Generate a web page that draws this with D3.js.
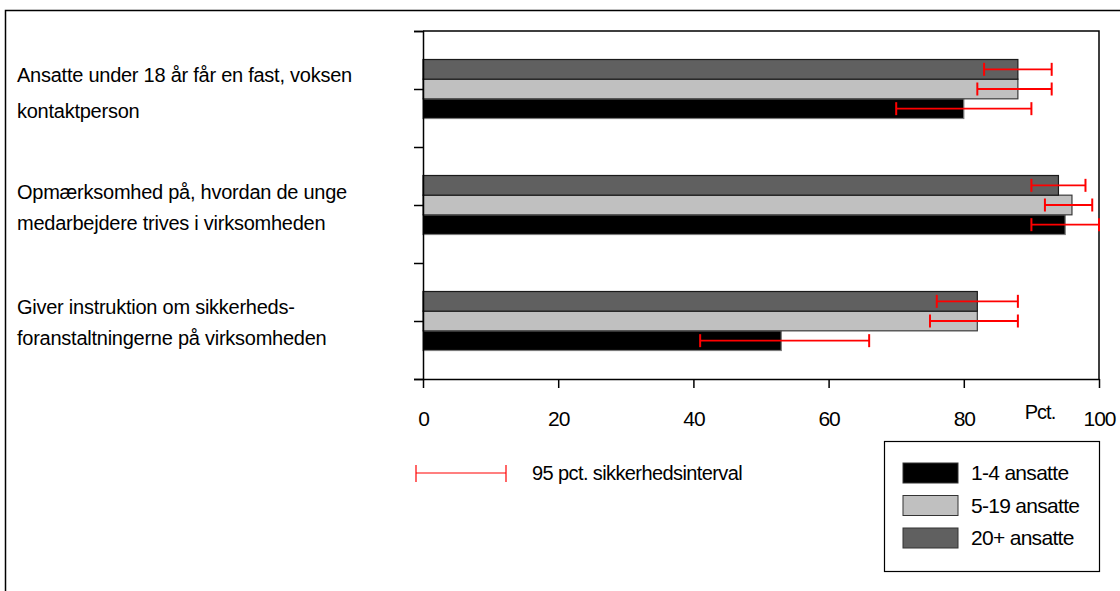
<!DOCTYPE html>
<html>
<head>
<meta charset="utf-8">
<script src="https://cdn.jsdelivr.net/npm/d3@7"></script>
<style>
  html, body { margin: 0; padding: 0; background: #fff; }
  svg { display: block; font-family: "Liberation Sans", Arial, sans-serif; }
</style>
</head>
<body>
<svg id="chart" width="1120" height="591"></svg>
<script>
// ---- data ----
const categories = [
  "Ansatte under 18 år får en fast, voksen|kontaktperson",
  "Opmærksomhed på, hvordan de unge|medarbejdere trives i virksomheden",
  "Giver instruktion om sikkerheds-|foranstaltningerne på virksomheden"
];
const seriesNames = ["1-4 ansatte", "5-19 ansatte", "20+ ansatte"];
const values_1_4  = [80, 95, 53];
const values_5_19 = [88, 96, 82];
const values_20   = [88, 94, 82];
const ciLow_1_4   = [70, 90, 41];
const ciHigh_1_4  = [90, 100, 66];
const ciLow_5_19  = [82, 92, 75];
const ciHigh_5_19 = [93, 99, 88];
const ciLow_20    = [83, 90, 76];
const ciHigh_20   = [93, 98, 88];
const xTicks = [0, 20, 40, 60, 80, 100];
const unitLabel = "Pct.";
const ciLegendLabel = "95 pct. sikkerhedsinterval";

// ---- layout ----
const svg = d3.select("#chart");
const colors = {"1-4 ansatte": "#000000", "5-19 ansatte": "#c0c0c0", "20+ ansatte": "#606060"};
const strokes = {"1-4 ansatte": "#7a7a7a", "5-19 ansatte": "#3a3a3a", "20+ ansatte": "#1a1a1a"};
const pLeft = 423, pRight = 1099, pTop = 31, pBottom = 379;

svg.append("rect").attr("width", 1120).attr("height", 591).attr("fill", "#fff");
// outer frame
svg.append("rect").attr("x", 5.5).attr("y", 10.5).attr("width", 1200).attr("height", 700)
  .attr("fill", "none").attr("stroke", "#000").attr("stroke-width", 1.5);

const x = d3.scaleLinear().domain([0, 100]).range([pLeft, pRight]);
const y = d3.scaleBand().domain(categories).range([pTop, pBottom]).padding(0);
const sub = d3.scaleBand().domain(["20+ ansatte", "5-19 ansatte", "1-4 ansatte"])
  .range([-29.5, 29.5]).padding(0);

const rows = [];
categories.forEach((c, i) => {
  rows.push({cat: c, s: "1-4 ansatte", v: values_1_4[i], lo: ciLow_1_4[i], hi: ciHigh_1_4[i]});
  rows.push({cat: c, s: "5-19 ansatte", v: values_5_19[i], lo: ciLow_5_19[i], hi: ciHigh_5_19[i]});
  rows.push({cat: c, s: "20+ ansatte", v: values_20[i], lo: ciLow_20[i], hi: ciHigh_20[i]});
});
const cy = d => y(d.cat) + y.bandwidth() / 2;

// plot border (top + right)
svg.append("path")
  .attr("d", `M${pLeft},${pTop}H${pRight}V${pBottom}`)
  .attr("fill", "none").attr("stroke", "#000").attr("stroke-width", 1.5);

// bars
svg.append("g").selectAll("rect").data(rows).join("rect")
  .attr("x", x(0))
  .attr("y", d => cy(d) + sub(d.s))
  .attr("width", d => x(d.v) - x(0))
  .attr("height", sub.bandwidth())
  .attr("fill", d => colors[d.s])
  .attr("stroke", d => strokes[d.s])
  .attr("stroke-width", 1.2);

// error bars
const eg = svg.append("g").attr("stroke", "#ff0000").attr("fill", "none");
rows.forEach(d => {
  const yc = cy(d) + sub(d.s) + sub.bandwidth() / 2;
  eg.append("line").attr("x1", x(d.lo)).attr("x2", x(d.hi)).attr("y1", yc).attr("y2", yc).attr("stroke-width", 1.8);
  [d.lo, d.hi].forEach(v => {
    eg.append("line").attr("x1", x(v)).attr("x2", x(v)).attr("y1", yc - 6.5).attr("y2", yc + 6.5).attr("stroke-width", 2);
  });
});

// y axis (ticks every half band)
const yTickScale = d3.scaleLinear().domain([0, 6]).range([pTop, pBottom]);
const yAxis = svg.append("g").attr("transform", `translate(${pLeft},0)`)
  .call(d3.axisLeft(yTickScale).tickValues(d3.range(7)).tickSize(9).tickFormat(""));
yAxis.selectAll("path.domain").attr("stroke", "#000").attr("stroke-width", 1.5);
yAxis.selectAll("line").attr("stroke", "#000").attr("stroke-width", 1.5);

// x axis
const xAxis = svg.append("g").attr("transform", `translate(0,${pBottom})`)
  .call(d3.axisBottom(x).tickValues(xTicks).tickSize(9).tickPadding(23).tickSizeOuter(0));
xAxis.selectAll("path.domain").attr("stroke", "#000").attr("stroke-width", 1.5);
xAxis.selectAll("line").attr("stroke", "#000").attr("stroke-width", 1.5);
xAxis.selectAll("text").attr("font-size", 21).attr("fill", "#000")
  .attr("font-family", "Liberation Sans, Arial, sans-serif").attr("letter-spacing", -1);

svg.append("text").attr("x", 1040).attr("y", 419).attr("text-anchor", "middle")
  .attr("font-size", 20).attr("letter-spacing", -1).text(unitLabel);

// category labels
const labelOffsets = [[-14, 22], [-13, 18], [-14, 17]];
categories.forEach((c, i) => {
  const lines = c.split("|");
  const yc = y(c) + y.bandwidth() / 2;
  lines.forEach((ln, j) => {
    svg.append("text").attr("x", 17).attr("y", yc + labelOffsets[i][j] + 7)
      .attr("font-size", 20).attr("letter-spacing", -0.25).attr("fill", "#000").text(ln);
  });
});

// CI legend
const ciL = svg.append("g").attr("stroke", "#ff0000");
ciL.append("line").attr("x1", 416).attr("x2", 506).attr("y1", 473).attr("y2", 473).attr("stroke-width", 1.2);
[416, 506].forEach(xx => ciL.append("line").attr("x1", xx).attr("x2", xx).attr("y1", 465).attr("y2", 482).attr("stroke-width", 1.2));
svg.append("text").attr("x", 532).attr("y", 480).attr("font-size", 20).attr("letter-spacing", -0.6).text(ciLegendLabel);

// series legend
svg.append("rect").attr("x", 884.5).attr("y", 441.5).attr("width", 215).attr("height", 130)
  .attr("fill", "#fff").attr("stroke", "#000").attr("stroke-width", 1.2);
const lg = svg.append("g").selectAll("g").data(seriesNames).join("g")
  .attr("transform", (d, i) => `translate(903,${463 + i * 32.5})`);
lg.append("rect").attr("width", 55).attr("height", 20)
  .attr("fill", d => colors[d]).attr("stroke", "#333").attr("stroke-width", 1);
lg.append("text").attr("x", 68).attr("y", 17).attr("font-size", 21).attr("letter-spacing", -0.7).text(d => d);
</script>
</body>
</html>
